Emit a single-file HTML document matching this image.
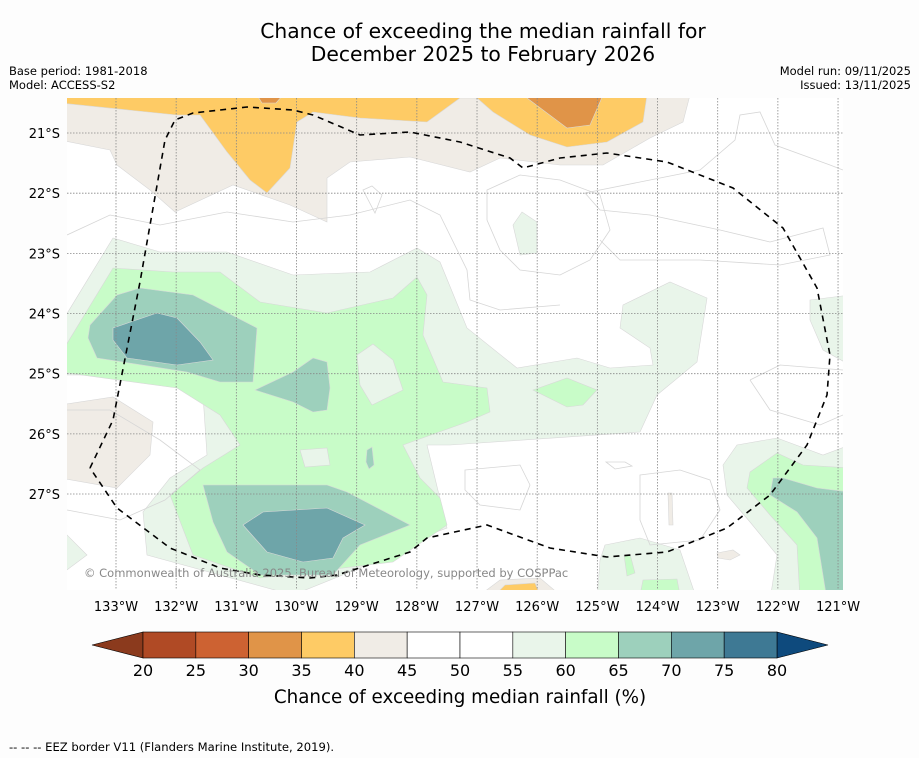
<!DOCTYPE html>
<html><head><meta charset="utf-8"><style>
body{margin:0;background:#fdfdfd;font-family:"DejaVu Sans","Liberation Sans",sans-serif;}
#wrap{position:relative;width:919px;height:758px;overflow:hidden;background:#fdfdfd;}
</style></head><body>
<div id="wrap">
<svg id="svg" width="919" height="758" xmlns="http://www.w3.org/2000/svg" font-family="DejaVu Sans, Liberation Sans, sans-serif">
<text x="483" y="38" text-anchor="middle" font-size="20.3" fill="#000">Chance of exceeding the median rainfall for</text>
<text x="483" y="61" text-anchor="middle" font-size="20.3" fill="#000">December 2025 to February 2026</text>
<text x="9" y="75" font-size="11.5">Base period: 1981-2018</text>
<text x="9" y="89" font-size="11.5">Model: ACCESS-S2</text>
<text x="911" y="75" font-size="11.5" text-anchor="end">Model run: 09/11/2025</text>
<text x="911" y="89" font-size="11.5" text-anchor="end">Issued: 13/11/2025</text>
<defs><clipPath id="mc"><rect x="67" y="98" width="776" height="492"/></clipPath></defs>
<g clip-path="url(#mc)" stroke="#d8d8d8" stroke-width="0.6">
<rect x="67" y="98" width="776" height="492" fill="#ffffff" stroke="none"/>
<polygon fill="#f0ece6" points="60,95 60,140 110,150 117,165 150,190 175,212 233,185 290,205 327,222 327,178 350,162 410,157 470,172 500,158 560,165 603,165 650,138 683,122 690,95"/>
<polygon fill="#fecb65" points="60,95 60,103 177,115 200,115 227,152 250,180 267,193 290,168 297,122 313,112 360,118 427,122 460,98 477,98 493,112 530,135 567,147 607,142 643,122 647,95"/>
<polygon fill="#e09448" points="523,95 567,128 590,125 603,95"/>
<polygon fill="#e09448" points="257,95 283,95 276,103 262,103"/>
<polygon fill="#f0ece6" points="60,405 113,397 153,422 150,455 117,488 60,478"/>
<polygon fill="#e9f5ea" points="60,325 113,238 160,252 227,252 293,275 370,272 417,248 440,262 467,328 517,368 577,358 610,368 653,365 650,348 620,328 623,305 670,282 707,298 697,362 657,395 640,432 450,445 427,445 447,528 420,538 360,568 293,595 147,555 143,512 170,478 207,455 203,395 170,375 60,375"/>
<polygon fill="#c8fcc8" points="60,355 113,268 173,272 220,272 260,302 327,313 393,298 417,277 427,295 423,335 443,382 487,388 490,412 467,422 403,445 420,478 440,498 447,525 393,562 260,578 193,555 170,495 203,468 240,445 220,415 177,388 60,372"/>
<polygon fill="#c8fcc8" points="533,390 567,378 597,390 583,405 567,407"/>
<polygon fill="#e9f5ea" points="300,450 327,448 330,465 305,467"/>
<polygon fill="#e9f5ea" points="357,355 373,344 393,360 403,390 372,405 360,385"/>
<polygon fill="#9dd0bc" points="90,325 117,295 140,288 193,295 257,328 253,382 220,382 187,372 97,358 88,338"/>
<polygon fill="#9dd0bc" points="255,390 293,372 313,358 327,362 330,388 327,410 313,412 293,402"/>
<polygon fill="#9dd0bc" points="367,450 372,447 374,465 369,469 366,462"/>
<polygon fill="#9dd0bc" points="203,485 247,485 327,485 347,492 410,525 360,545 333,575 260,575 227,552 213,522"/>
<polygon fill="#6ea5a9" points="113,328 157,313 177,318 200,342 213,360 177,365 127,358 113,340"/>
<polygon fill="#6ea5a9" points="243,525 263,512 327,508 365,525 343,538 333,558 303,562 267,552"/>
<polygon fill="#e9f5ea" points="723,465 737,445 777,438 823,455 850,445 850,600 770,600 777,555 750,522 727,495"/>
<polygon fill="#c8fcc8" points="750,472 777,453 803,465 850,468 850,600 800,600 797,545 770,515 747,488"/>
<polygon fill="#9dd0bc" points="773,478 783,478 817,488 850,492 850,600 827,600 817,538 797,512 770,495"/>
<polygon fill="#e9f5ea" points="597,600 600,560 605,545 640,538 680,550 697,600"/>
<polygon fill="#c8fcc8" points="624,555 630,554 635,573 627,576"/>
<polygon fill="#c8fcc8" points="643,580 677,579 680,595 640,595"/>
<polygon fill="#e9f5ea" points="810,300 850,295 850,365 823,350 810,320"/>
<polygon fill="#e9f5ea" points="513,225 522,212 537,222 537,253 520,255"/>
<polygon fill="#e9f5ea" points="60,528 87,555 60,575"/>
<polygon fill="#f0ece6" points="668,493 672,493 673,525 669,525"/>
<polygon fill="#f0ece6" points="717,553 733,550 740,555 730,560 718,558"/>
<polygon fill="#f0ece6" points="480,595 500,580 540,578 560,595"/>
<polygon fill="#fecb65" points="495,595 505,585 535,583 540,595"/>
<g fill="none" stroke="#d6d6d6" stroke-width="0.8">
<path d="M67,235 L110,215 L160,225 L227,212 L293,222 L350,215 L410,200 L440,215 L467,270 L470,300 L500,310 L560,305"/>
<path d="M487,190 L520,175 L560,180 L600,195 L610,230 L590,260 L560,275 L520,270 L500,250 L487,220Z"/>
<path d="M585,193 L650,180 L700,170 L735,140 L740,115 L760,112 L775,145 L830,165 L843,170"/>
<path d="M585,193 L600,210 L650,215 L720,230 L770,242 L823,228 L830,255 L780,265 L700,260 L620,260 L600,240"/>
<path d="M750,380 L780,365 L843,370 M750,380 L770,410 L820,425 L843,415"/>
<path d="M465,470 L520,465 L530,485 L520,510 L480,505 L465,490Z"/>
<path d="M640,475 L680,470 L710,480 L720,510 L700,540 L650,545 L640,520Z"/>
<path d="M606,462 L625,462 L632,466 L615,469Z"/>
<path d="M363,190 L372,186 L382,195 L375,213Z"/>
<path d="M67,410 L110,410 L160,440 L200,470 L165,500 L120,520 L67,510"/>
</g>
<g stroke="#888" stroke-width="0.8" stroke-dasharray="1.5,1.5" id="grid"></g>
<polyline fill="none" stroke="#000" stroke-width="1.6" stroke-dasharray="6,5" points="90,468 113,420 140,282 165,140 175,120 193,113 247,107 293,110 313,115 360,135 410,132 460,142 510,158 523,168 560,158 607,153 667,162 733,188 783,228 817,288 830,355 827,395 807,445 770,495 727,528 667,552 607,557 550,548 487,525 427,538 410,552 337,575 310,578 260,575 220,568 170,548 117,508 90,468"/>
</g>
<text x="84" y="577" font-size="11.5" fill="#888">© Commonwealth of Australia 2025, Bureau of Meteorology, supported by COSPPac</text>
<g id="axes" font-size="13" fill="#000"></g>
<g id="cbar"></g>
<text x="460" y="703" text-anchor="middle" font-size="18.3">Chance of exceeding median rainfall (%)</text>
<text x="9" y="751" font-size="11.6">--  --  -- EEZ border V11 (Flanders Marine Institute, 2019).</text>
</svg>
</div>
<script>
const lonTicks=[133,132,131,130,129,128,127,126,125,124,123,122,121];
const latTicks=[21,22,23,24,25,26,27];
const cbarBounds=[20,25,30,35,40,45,50,55,60,65,70,75,80];
const cbarColors=["#b04a25","#cd6232","#e09448","#fecb65","#f0ece6","#ffffff","#ffffff","#e9f5ea","#c8fcc8","#9dd0bc","#6ea5a9","#3e7994"];
const NS="http://www.w3.org/2000/svg";
const xLon=l=>116+(133-l)*60.17;
const yLat=l=>133+(l-21)*60.17;
function mk(t,a,p){const e=document.createElementNS(NS,t);for(const k in a)e.setAttribute(k,a[k]);p.appendChild(e);return e;}
const grid=document.getElementById('grid'),axes=document.getElementById('axes'),cb=document.getElementById('cbar');
lonTicks.forEach(l=>{const x=xLon(l);
 const g=mk('line',{x1:x,y1:98,x2:x,y2:590},grid);
 
 
 const t=mk('text',{x:x,y:611,'text-anchor':'middle'},axes);t.textContent=l+'°W';
 
 });
latTicks.forEach(l=>{const y=yLat(l);
 const g=mk('line',{x1:67,y1:y,x2:843,y2:y},grid);
 
 
 const t=mk('text',{x:60,y:y+5,'text-anchor':'end'},axes);t.textContent=l+'°S';
 
 });
const cx=v=>143+(v-20)/60*634;
const y0=632,y1=658;
const lt=mk('polygon',{points:`92,645 ${cx(20)},${y0} ${cx(20)},${y1}`,fill:'#8b3a1d',stroke:'#000','stroke-width':0.6},cb);


const rt=mk('polygon',{points:`828,645 ${cx(80)},${y0} ${cx(80)},${y1}`,fill:'#0e4a7d',stroke:'#000','stroke-width':0.6},cb);


cbarColors.forEach((c,i)=>{const x=cx(cbarBounds[i]),w=cx(cbarBounds[i+1])-x;
 const r=mk('rect',{x:x,y:y0,width:w,height:y1-y0,fill:c,stroke:'#000','stroke-width':0.6},cb);
 
 });
cbarBounds.forEach(v=>{const t=mk('text',{x:cx(v),y:676,'text-anchor':'middle','font-size':16},cb);t.textContent=v;
 
 });
</script>
</body></html>
